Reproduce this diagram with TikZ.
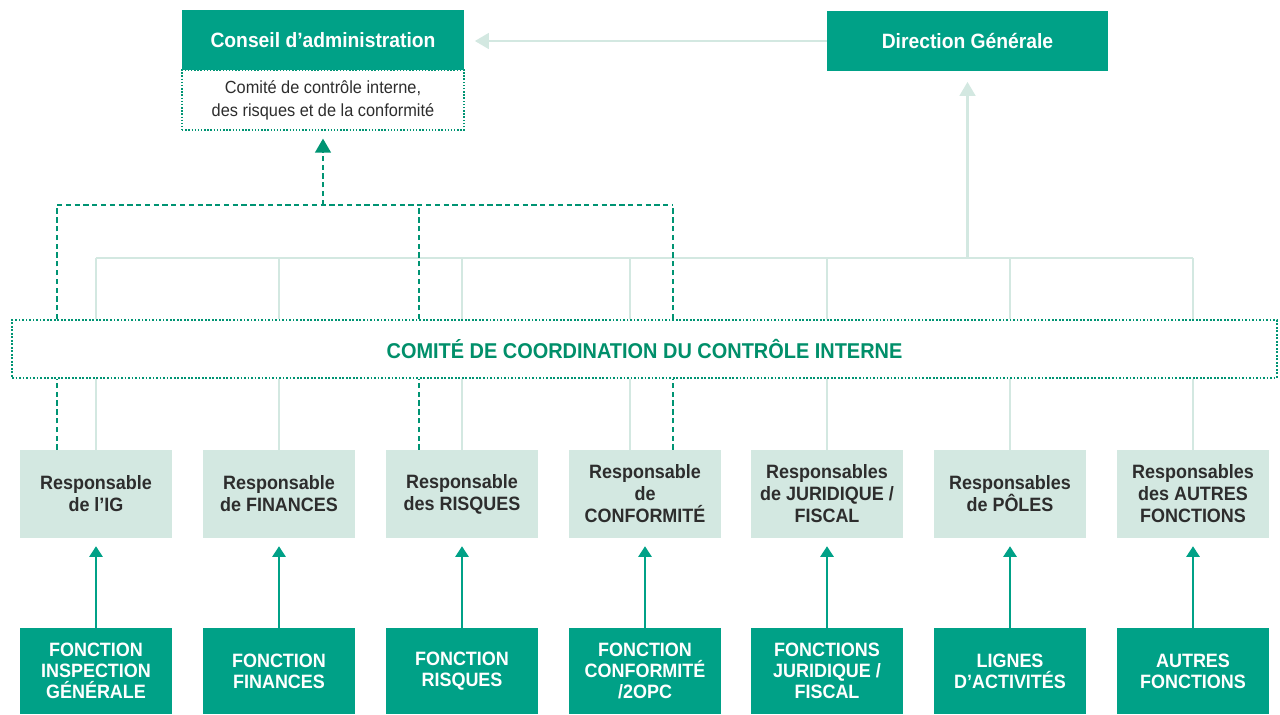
\documentclass[tikz,border=0pt]{standalone}
\usepackage{fontspec}
\setmainfont{Liberation Sans}[FakeStretch=0.93]
\usetikzlibrary{arrows.meta}
\definecolor{vert}{RGB}{0,161,135}
\definecolor{vertclair}{RGB}{211,232,225}
\definecolor{trait}{RGB}{0,148,115}
\definecolor{vertfonce}{RGB}{0,143,106}
\definecolor{gris}{RGB}{45,45,45}

\tikzset{
  fonction/.style={fill=vert, text=white, font=\bfseries\fontsize{11}{12}\selectfont,
    minimum width=3.04cm, minimum height=1.72cm, align=center, inner sep=0pt},
  resp/.style={fill=vertclair, text=gris, font=\bfseries\fontsize{11}{12.5}\selectfont,
    minimum width=3.04cm, minimum height=1.76cm, align=center, inner sep=0pt},
  titre/.style={fill=vert, text=white, font=\bfseries\fontsize{11.8}{13}\selectfont,
    minimum height=1.2cm, inner sep=0pt},
  lien/.style={vertclair, line width=1.4pt},
  pointille/.style={trait, line width=1.1pt, dash pattern=on 3pt off 2pt},
  fleche/.style={vert, line width=1.1pt, -{Triangle[width=7.5pt,length=6pt]}, shorten >=4.5pt}
}

\begin{document}
\begin{tikzpicture}[x=0.02cm,y=-0.02cm]
\useasboundingbox (0,0) rectangle (1280,714);

% haut
\node[draw=trait, densely dotted, line width=0.8pt, minimum width=5.64cm, minimum height=1.2cm,
  inner sep=0pt, align=center, text=gris, font=\fontsize{10}{13}\selectfont] (cci) at (323,100)
  {Comité de contrôle interne,\\des risques et de la conformité};
\node[titre, minimum width=5.64cm] (ca) at (323,40) {Conseil d’administration};
\node[titre, minimum width=5.62cm] (dg) at (967.5,41) {Direction Générale};

% comite
\node[draw=trait, fill=white, densely dotted, line width=1pt, minimum width=25.3cm, minimum height=1.16cm,
  inner sep=0pt, text=vertfonce, font=\bfseries\fontsize{12.2}{13}\selectfont] (comite) at (644.5,349)
  {COMITÉ DE COORDINATION DU CONTRÔLE INTERNE};

% responsables
\node[resp] (r1) at (96,494) {Responsable\\de l’IG};
\node[resp] (r2) at (279,494) {Responsable\\de FINANCES};
\node[resp] (r3) at (462,494) {Responsable\\des RISQUES};
\node[resp] (r4) at (645,494) {Responsable\\de\\CONFORMITÉ};
\node[resp] (r5) at (827,494) {Responsables\\de JURIDIQUE /\\FISCAL};
\node[resp] (r6) at (1010,494) {Responsables\\de PÔLES};
\node[resp] (r7) at (1193,494) {Responsables\\des AUTRES\\FONCTIONS};

% fonctions
\node[fonction] (f1) at (96,671) {FONCTION\\INSPECTION\\GÉNÉRALE};
\node[fonction] (f2) at (279,671) {FONCTION\\FINANCES};
\node[fonction] (f3) at (462,671) {FONCTION\\RISQUES};
\node[fonction] (f4) at (645,671) {FONCTION\\CONFORMITÉ\\/2OPC};
\node[fonction] (f5) at (827,671) {FONCTIONS\\JURIDIQUE /\\FISCAL};
\node[fonction] (f6) at (1010,671) {LIGNES\\D’ACTIVITÉS};
\node[fonction] (f7) at (1193,671) {AUTRES\\FONCTIONS};

\foreach \i in {1,...,7}
  \draw[fleche] (f\i.north) -- (r\i.south);

% liens clairs
\coordinate (bus) at (0,258);
\draw[lien] (r1 |- bus) -- (r7 |- bus);
\foreach \i/\dx in {1/0,2/0,3/0,4/-15,5/0,6/0,7/0} {
  \draw[lien] ([xshift=\dx*0.02cm]r\i.north) -- ([xshift=\dx*0.02cm]r\i.north |- comite.south);
  \draw[lien] ([xshift=\dx*0.02cm]r\i.north |- comite.north) -- ([xshift=\dx*0.02cm]r\i.north |- bus);
}
\draw[lien, -{Triangle[width=9pt,length=8pt]}, shorten >=6pt] (dg |- bus) -- (dg.south);
\draw[lien, -{Triangle[width=9pt,length=8pt]}, shorten >=6pt] (dg.west) -- (ca.east |- dg.west);

% pointilles
\coordinate (dbus) at (0,205);
\foreach \i/\dx in {1/-39,3/-43,4/28} {
  \draw[pointille] ([xshift=\dx*0.02cm]r\i.north) -- ([xshift=\dx*0.02cm]r\i.north |- comite.south);
  \draw[pointille] ([xshift=\dx*0.02cm]r\i.north |- comite.north) -- ([xshift=\dx*0.02cm]r\i.north |- dbus);
}
\draw[pointille] ([xshift=-0.78cm]r1.north |- dbus) -- ([xshift=0.56cm]r4.north |- dbus);
\draw[pointille, -{Triangle[width=9pt,length=8pt]}, shorten >=4.5pt] (cci |- dbus) -- (cci.south);
\end{tikzpicture}
\end{document}
